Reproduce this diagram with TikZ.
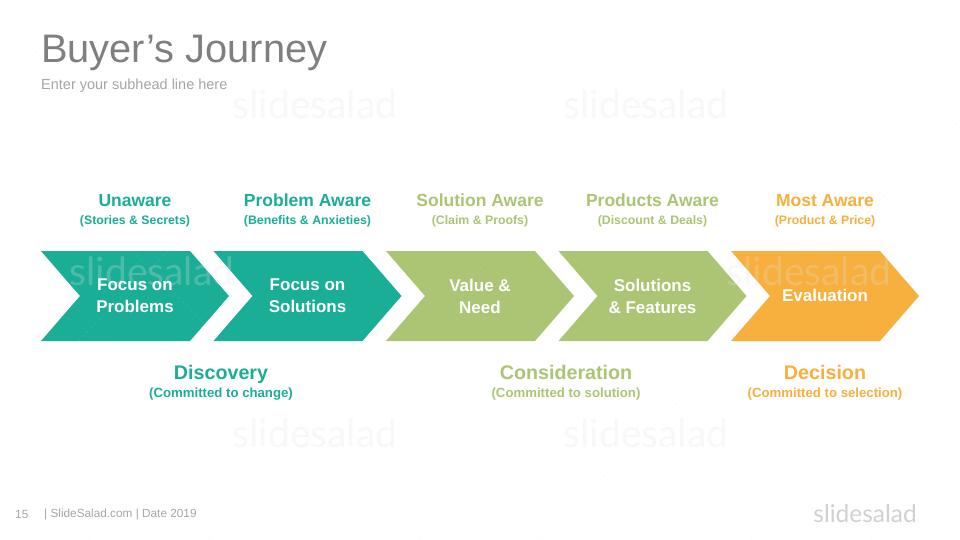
\documentclass[tikz,border=0pt]{standalone}
\usepackage{fontspec}
\setmainfont{Liberation Sans}
\newfontfamily\markfont{Lato}
\usetikzlibrary{positioning}
\definecolor{teal}{RGB}{26,174,150}
\definecolor{leaf}{RGB}{171,197,116}
\definecolor{amber}{RGB}{247,175,61}
\definecolor{titlegray}{RGB}{127,127,127}
\definecolor{subgray}{RGB}{166,166,166}
\definecolor{markgray}{RGB}{228,228,228}
\tikzset{
  chevtext/.style={align=center, text=white, font=\bfseries\fontsize{17}{22}\selectfont},
  headtext/.style={anchor=base, font=\bfseries\fontsize{17.5}{20}\selectfont},
  captext/.style={anchor=base, font=\bfseries\fontsize{12.3}{14}\selectfont},
  stagetext/.style={anchor=base, font=\bfseries\fontsize{19.7}{24}\selectfont},
  stagesub/.style={anchor=base, font=\bfseries\fontsize{13.2}{16}\selectfont},
  watermark/.style={text=markgray, opacity=0.25, font=\markfont\fontsize{39}{42}\selectfont},
  markline/.style={draw=markgray, opacity=0.14, line width=0.5pt, dashed}
}
\begin{document}
\begin{tikzpicture}[x=1pt, y=-1pt]
\useasboundingbox (0,0) rectangle (960,540);
% Background
\fill[white] (0,0) rectangle (960,540);

% Chevrons
\foreach \left/\col in {41/teal, 213.5/teal, 386/leaf, 558.5/leaf, 731/amber}
  \fill[\col] (\left,251) -- ({\left+149},251) -- ({\left+188},296)
    -- ({\left+149},341) -- (\left,341) -- ({\left+39},296) -- cycle;

% Background pattern
\foreach \u in {88,419,749,1080,1411}
  \draw[markline] (\u,0) -- ({\u-540},540);
\foreach \v in {-450,-119,212,540,871}
  \draw[markline] (\v,0) -- ({\v+540},540);

% Watermarks
\node[watermark] (markA) at (315,104) {slidesalad};
\node[watermark] (markB) at (646,104) {slidesalad};
\node[watermark] (markC) at (315,433) {slidesalad};
\node[watermark] (markD) at (646,433) {slidesalad};
\node[watermark] (markE) at (152,271) {slidesalad};
\node[watermark] (markF) at (809,271) {slidesalad};

% Title
\node[anchor=base west, inner sep=0pt, text=titlegray, font=\fontsize{39.8}{46}\selectfont] (title) at (41,62.5) {Buyer’s Journey};
\node[anchor=base west, inner sep=0pt, text=subgray, font=\fontsize{14.5}{16}\selectfont] (subhead) at (41,90) {Enter your subhead line here};

% Chevron labels
\node[chevtext] (stepA) at (135,296.2) {Focus on\\Problems};
\node[chevtext] (stepB) at (307.5,296.2) {Focus on\\Solutions};
\node[chevtext] (stepC) at (480,296.2) {Value \&\\Need};
\node[chevtext] (stepD) at (652.5,296.2) {Solutions\\\& Features};
\node[chevtext] (stepE) at (825,295.5) {Evaluation};

% Awareness levels
\node[headtext, text=teal] (headA) at (135,206.5) {Unaware};
\node[captext, text=teal] (capA) at (135,224) {(Stories \& Secrets)};
\node[headtext, text=teal] (headB) at (307.5,206.5) {Problem Aware};
\node[captext, text=teal] (capB) at (307.5,224) {(Benefits \& Anxieties)};
\node[headtext, text=leaf] (headC) at (480,206.5) {Solution Aware};
\node[captext, text=leaf] (capC) at (480,224) {(Claim \& Proofs)};
\node[headtext, text=leaf] (headD) at (652.5,206.5) {Products Aware};
\node[captext, text=leaf] (capD) at (652.5,224) {(Discount \& Deals)};
\node[headtext, text=amber] (headE) at (825,206.5) {Most Aware};
\node[captext, text=amber] (capE) at (825,224) {(Product \& Price)};

% Stages
\node[stagetext, text=teal] (stageA) at (221,379) {Discovery};
\node[stagesub, text=teal] (subA) at (221,397.5) {(Committed to change)};
\node[stagetext, text=leaf] (stageB) at (566,379) {Consideration};
\node[stagesub, text=leaf] (subB) at (566,397.5) {(Committed to solution)};
\node[stagetext, text=amber] (stageC) at (825,379) {Decision};
\node[stagesub, text=amber] (subC) at (825,397.5) {(Committed to selection)};

% Footer
\node[anchor=west, inner sep=0pt, text=subgray, font=\fontsize{11.8}{14}\selectfont] (pagenum) at (15,514) {15};
\node[anchor=west, inner sep=0pt, text=subgray, font=\fontsize{11.8}{14}\selectfont] (footer) at (44,514) {| SlideSalad.com | Date 2019};
\node[anchor=east, inner sep=0pt, text=black!18, font=\markfont\fontsize{24.5}{26}\selectfont] (logo) at (917,514) {slidesalad};
\end{tikzpicture}
\end{document}
